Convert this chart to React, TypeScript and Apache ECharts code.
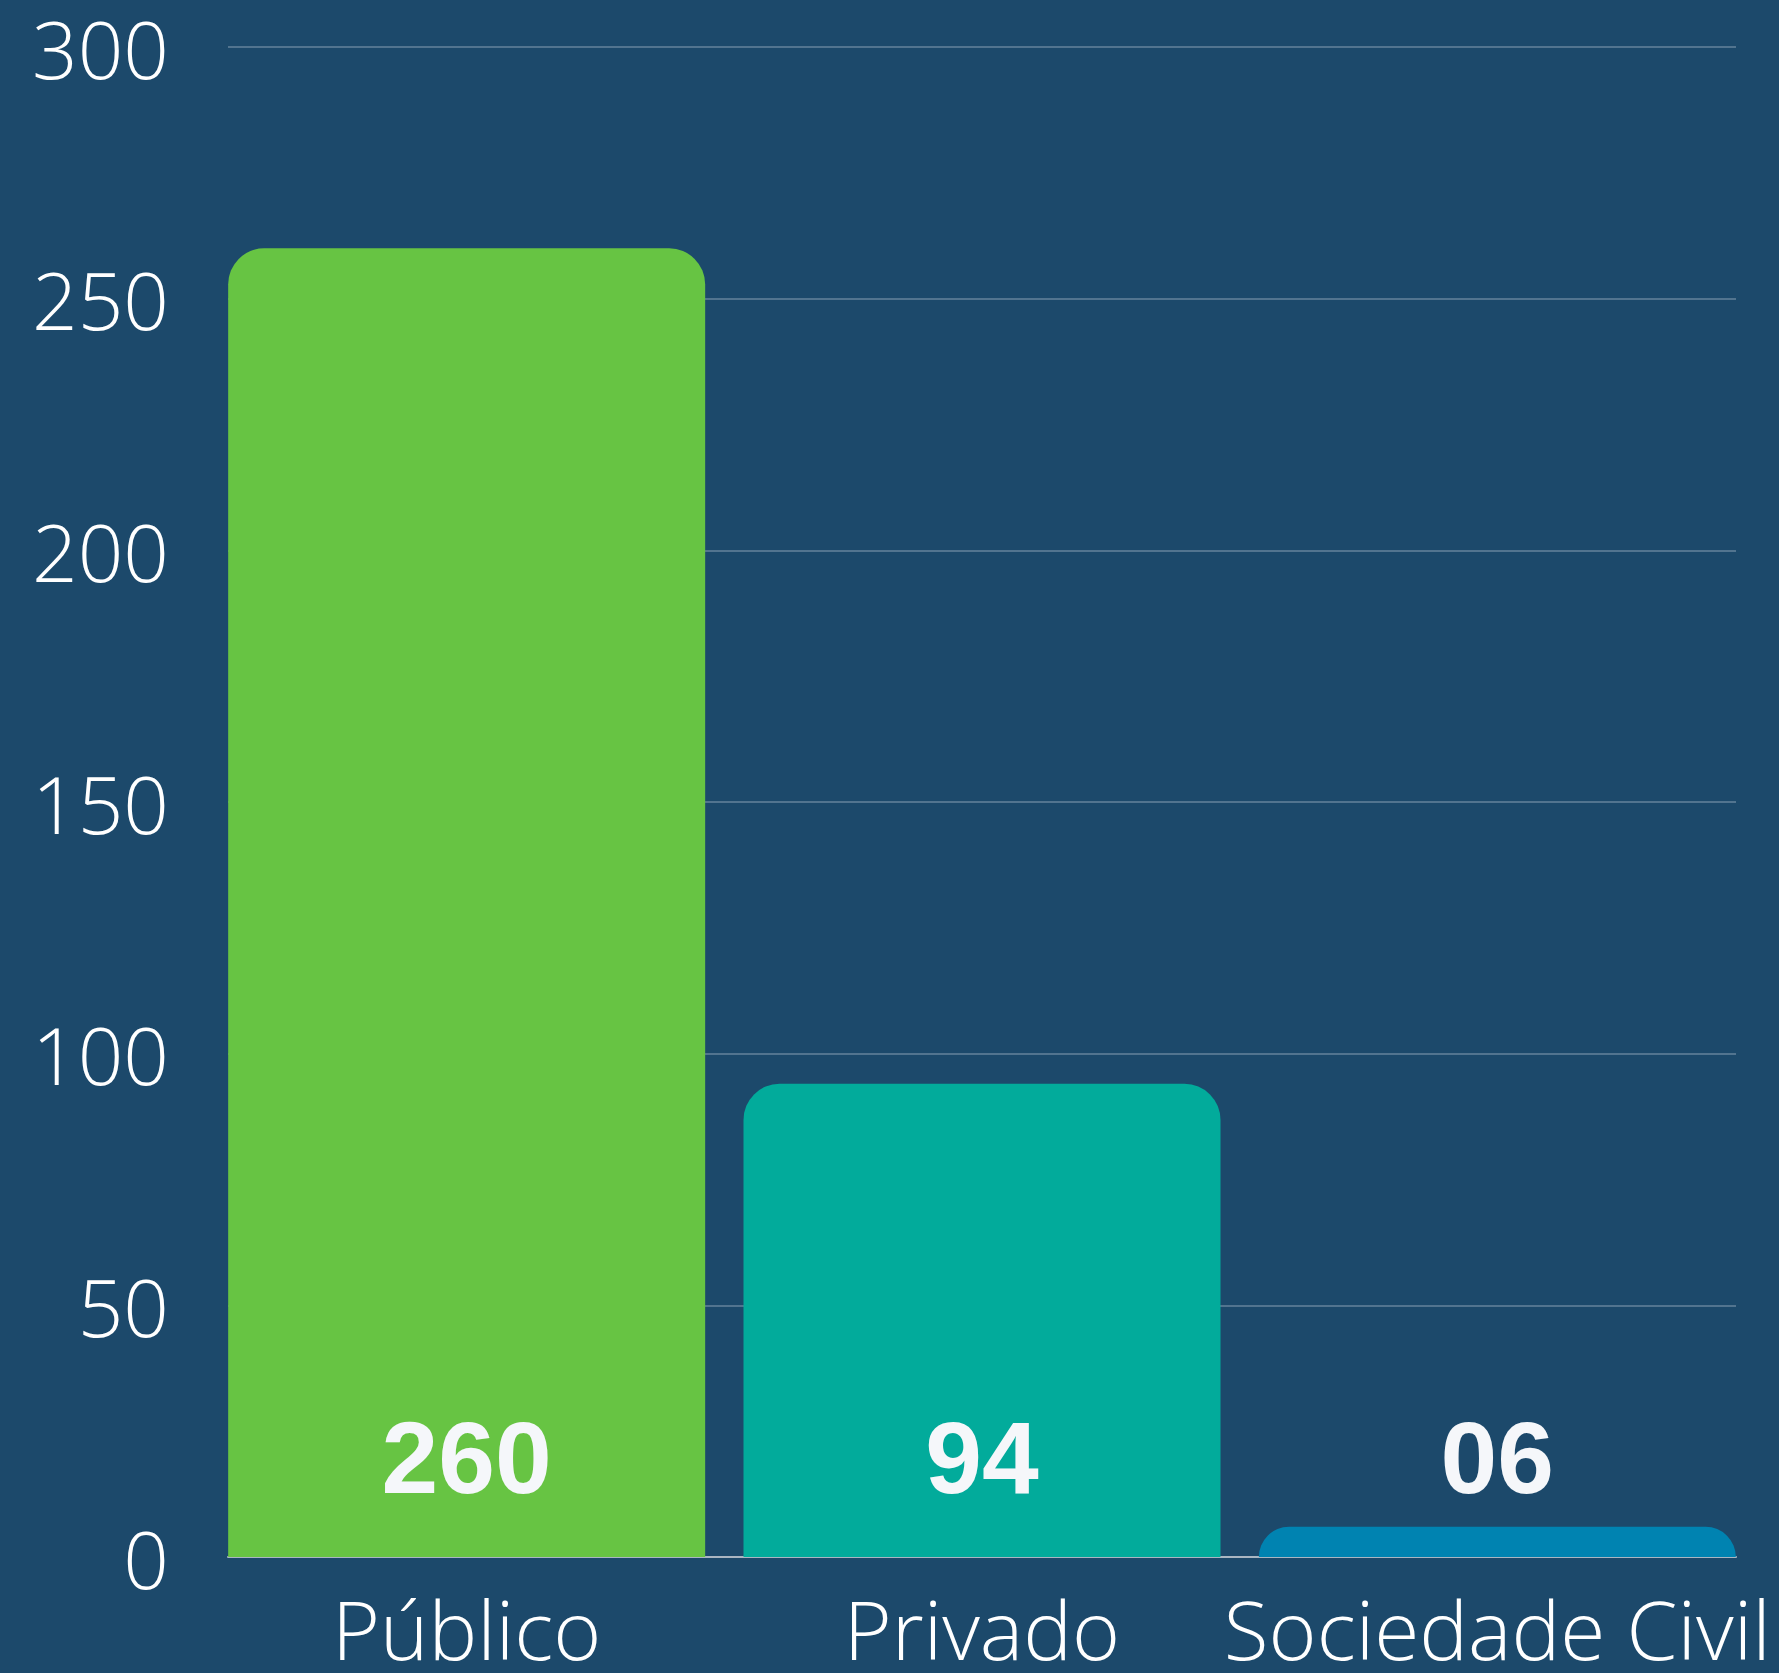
import React, { useEffect, useRef } from "react";
import * as echarts from "echarts";

const categories = ["Público", "Privado", "Sociedade Civil"];
const values = [260, 94, 6];
const valueLabels = ["260", "94", "06"];
const barColors = ["#67c443", "#02ab9b", "#0083b1"];
const yTicks = { min: 0, max: 300, interval: 50 };

export default function App() {
  const ref = useRef<HTMLDivElement>(null);
  useEffect(() => {
    document.body.style.margin = "0";
    document.body.style.background = "#1c496b";
    const chart = echarts.init(ref.current!, null, { renderer: "svg" });
    chart.setOption({
      animation: false,
      backgroundColor: "#1c496b",
      grid: [
        { left: 228, right: 43, top: 47, bottom: 116 },
        { left: 209, right: 24, top: 47, bottom: 116 },
      ],
      xAxis: [
        {
          type: "category",
          gridIndex: 0,
          data: categories,
          axisLabel: { show: false },
          axisTick: { show: false },
          axisLine: { show: true, lineStyle: { color: "#aab6c2", width: 2 } },
        },
        {
          type: "category",
          gridIndex: 1,
          data: categories,
          axisTick: { show: false },
          axisLine: { show: false },
          axisLabel: {
            color: "#ffffff",
            fontFamily: "Open Sans",
            fontWeight: 300,
            fontSize: 82,
            margin: 30,
            interval: 0,
          },
        },
      ],
      yAxis: [
        {
          type: "value",
          gridIndex: 0,
          min: yTicks.min,
          max: yTicks.max,
          interval: yTicks.interval,
          axisLine: { show: false },
          axisTick: { show: false },
          splitLine: { show: true, lineStyle: { color: "#52748f", width: 2 } },
          axisLabel: {
            color: "#ffffff",
            fontFamily: "Open Sans",
            fontWeight: 300,
            fontSize: 80,
            margin: 59,
            padding: [0, 0, 10, 0],
          },
        },
        {
          type: "value",
          gridIndex: 1,
          min: yTicks.min,
          max: yTicks.max,
          show: false,
          splitLine: { show: false },
        },
      ],
      series: [
        {
          type: "bar",
          xAxisIndex: 1,
          yAxisIndex: 1,
          barWidth: 477,
          data: values.map((v, i) => ({
            value: v,
            itemStyle: { color: barColors[i], borderRadius: [36, 36, 0, 0] },
            label: {
              show: true,
              position: "insideBottom",
              distance: 48,
              formatter: valueLabels[i],
              color: "#f5f7fa",
              fontFamily: "Liberation Sans",
              fontWeight: 900,
              fontSize: 102,
            },
          })),
        },
      ],
    });
    return () => chart.dispose();
  }, []);
  return <div ref={ref} style={{ width: 1779, height: 1673 }} />;
}
